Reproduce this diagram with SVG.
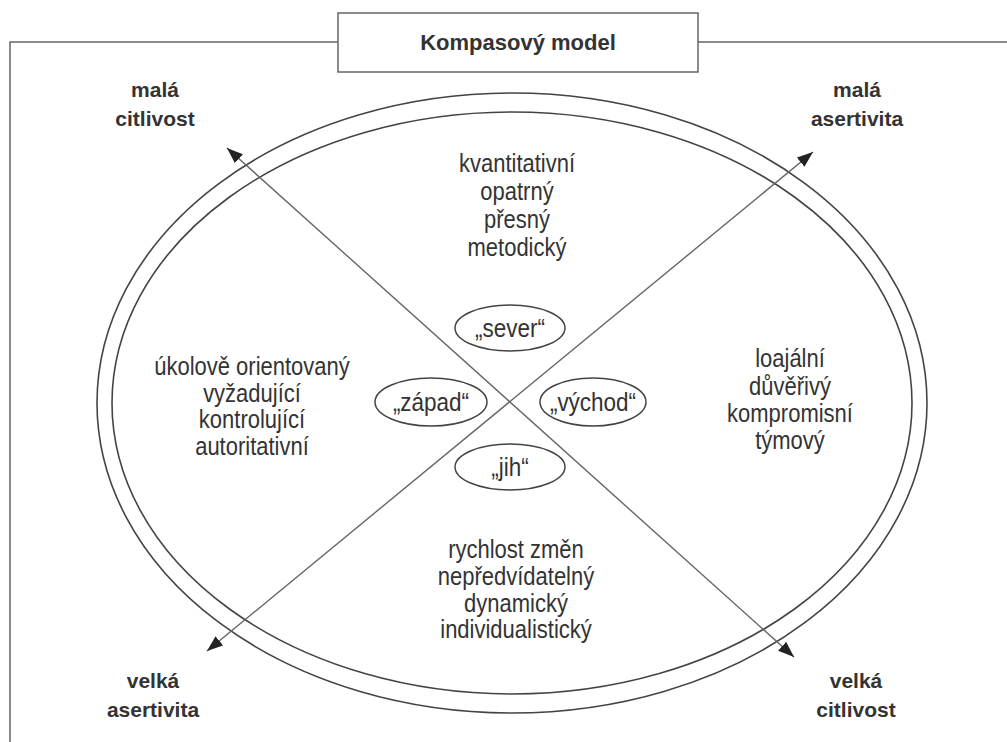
<svg xmlns="http://www.w3.org/2000/svg" width="1007" height="742" viewBox="0 0 1007 742">
<style>
.frame{fill:none;stroke:#666;stroke-width:1.5}
.big{fill:none;stroke:#444;stroke-width:1.6}
.oval{fill:#fff;stroke:#444;stroke-width:1.5}
.axis{fill:none;stroke:#666;stroke-width:1.4}
.t{font-family:"Liberation Sans",Arial,sans-serif;font-size:25px;fill:#333;text-anchor:middle}
.b{font-family:"Liberation Sans",Arial,sans-serif;font-size:21px;font-weight:bold;fill:#333;text-anchor:middle}
.title{font-family:"Liberation Sans",Arial,sans-serif;font-size:22px;font-weight:bold;fill:#333;text-anchor:middle}
</style>
<defs>
<marker id="arr" markerUnits="userSpaceOnUse" markerWidth="18" markerHeight="14" refX="16" refY="6" orient="auto-start-reverse" viewBox="0 0 18 12">
<path d="M0,0 L16,6 L0,12 Z" fill="#222"/>
</marker>
</defs>
<rect width="1007" height="742" fill="#fff"/>
<g id="frame">
<path class="frame" d="M10,742 L10,42 L338,42 M698,42 L1007,42"/>
</g>
<g id="title">
<rect class="frame" x="338" y="13" width="360" height="59" fill="#fff"/>
<text class="title" x="518" y="50">Kompasový model</text>
</g>
<g id="compass">
<ellipse class="big" cx="512" cy="403" rx="415" ry="310"/>
<ellipse class="big" cx="512" cy="403" rx="400" ry="291"/>
</g>
<g id="connectors">
<line class="axis" x1="227" y1="148" x2="794" y2="657" marker-start="url(#arr)" marker-end="url(#arr)"/>
<line class="axis" x1="813" y1="152" x2="207" y2="651" marker-start="url(#arr)" marker-end="url(#arr)"/>
</g>
<g id="sever">
<ellipse class="oval" cx="510" cy="328" rx="55" ry="23"/>
<g transform="translate(510,0) scale(0.9,1)"><text class="t" x="0" y="337">„sever“</text></g>
</g>
<g id="zapad">
<ellipse class="oval" cx="431" cy="402" rx="56" ry="24"/>
<g transform="translate(431,0) scale(0.9,1)"><text class="t" x="0" y="411">„západ“</text></g>
</g>
<g id="vychod">
<ellipse class="oval" cx="593" cy="402" rx="53" ry="24"/>
<g transform="translate(593,0) scale(0.9,1)"><text class="t" x="0" y="411">„východ“</text></g>
</g>
<g id="jih">
<ellipse class="oval" cx="510" cy="467" rx="55" ry="23"/>
<g transform="translate(510,0) scale(0.9,1)"><text class="t" x="0" y="476">„jih“</text></g>
</g>
<g id="north-text" transform="translate(517,0) scale(0.88,1)">
<text class="t" x="0" y="172">kvantitativní</text>
<text class="t" x="0" y="200">opatrný</text>
<text class="t" x="0" y="228">přesný</text>
<text class="t" x="0" y="256">metodický</text>
</g>
<g id="west-text" transform="translate(252,0) scale(0.88,1)">
<text class="t" x="0" y="375">úkolově orientovaný</text>
<text class="t" x="0" y="402">vyžadující</text>
<text class="t" x="0" y="428">kontrolující</text>
<text class="t" x="0" y="455">autoritativní</text>
</g>
<g id="east-text" transform="translate(790,0) scale(0.88,1)">
<text class="t" x="0" y="367">loajální</text>
<text class="t" x="0" y="395">důvěřivý</text>
<text class="t" x="0" y="422">kompromisní</text>
<text class="t" x="0" y="449">týmový</text>
</g>
<g id="south-text" transform="translate(516,0) scale(0.88,1)">
<text class="t" x="0" y="558">rychlost změn</text>
<text class="t" x="0" y="585">nepředvídatelný</text>
<text class="t" x="0" y="612">dynamický</text>
<text class="t" x="0" y="638">individualistický</text>
</g>
<g id="label-tl">
<text class="b" x="155" y="97">malá</text>
<text class="b" x="155" y="126">citlivost</text>
</g>
<g id="label-tr">
<text class="b" x="857" y="97">malá</text>
<text class="b" x="857" y="126">asertivita</text>
</g>
<g id="label-bl">
<text class="b" x="153" y="688">velká</text>
<text class="b" x="153" y="717">asertivita</text>
</g>
<g id="label-br">
<text class="b" x="856" y="688">velká</text>
<text class="b" x="856" y="717">citlivost</text>
</g>
</svg>
